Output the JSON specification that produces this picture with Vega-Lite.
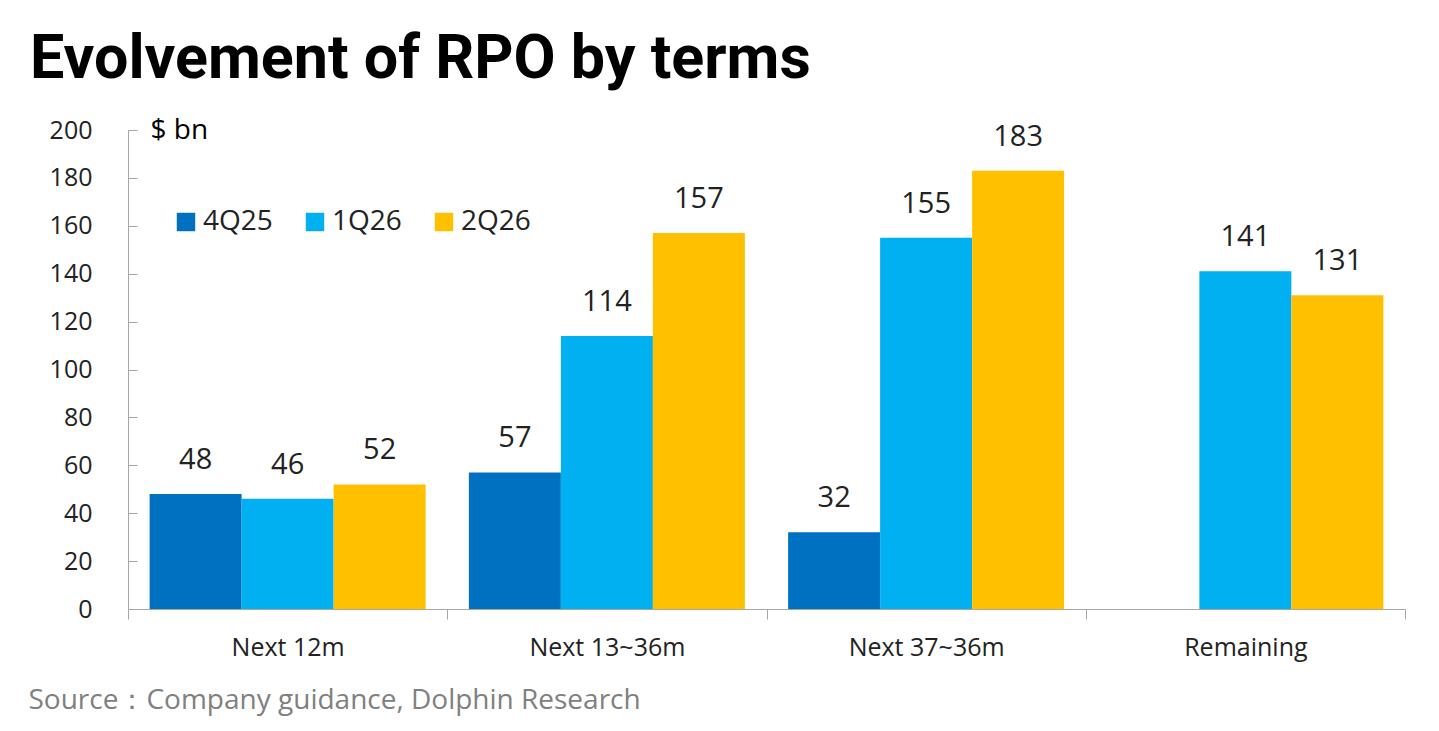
{
  "$schema": "https://vega.github.io/schema/vega-lite/v6.json",
  "autosize": "none",
  "width": 1277,
  "height": 479,
  "padding": {"left": 128, "top": 130, "right": 34, "bottom": 122},
  "background": "white",
  "title": {
    "text": "Evolvement of RPO by terms",
    "anchor": "start",
    "frame": "group",
    "dx": -98,
    "offset": 25,
    "font": "Roboto",
    "fontSize": 61,
    "fontWeight": "bold",
    "color": "#000000"
  },
  "config": {
    "font": "Open Sans",
    "view": {"stroke": null},
    "axis": {"labelColor": "#222222", "domainColor": "#a6a6a6", "tickColor": "#a6a6a6", "grid": false}
  },
  "data": {
    "values": [
      {"term": "Next 12m", "quarter": "4Q25", "rpo": 48},
      {"term": "Next 12m", "quarter": "1Q26", "rpo": 46},
      {"term": "Next 12m", "quarter": "2Q26", "rpo": 52},
      {"term": "Next 13~36m", "quarter": "4Q25", "rpo": 57},
      {"term": "Next 13~36m", "quarter": "1Q26", "rpo": 114},
      {"term": "Next 13~36m", "quarter": "2Q26", "rpo": 157},
      {"term": "Next 37~36m", "quarter": "4Q25", "rpo": 32},
      {"term": "Next 37~36m", "quarter": "1Q26", "rpo": 155},
      {"term": "Next 37~36m", "quarter": "2Q26", "rpo": 183},
      {"term": "Remaining", "quarter": "1Q26", "rpo": 141},
      {"term": "Remaining", "quarter": "2Q26", "rpo": 131}
    ]
  },
  "encoding": {
    "x": {
      "field": "term",
      "type": "nominal",
      "sort": ["Next 12m", "Next 13~36m", "Next 37~36m", "Remaining"],
      "scale": {"paddingInner": 0, "paddingOuter": 0},
      "axis": {
        "title": "Source：Company guidance, Dolphin Research",
        "titleX": -100,
        "titleY": 91,
        "titleAlign": "left",
        "titleBaseline": "middle",
        "titleAnchor": null,
        "titleColor": "#808080",
        "titleFontSize": 28,
        "titleFontWeight": "normal",
        "labelAngle": 0,
        "labelFontSize": 25,
        "labelPadding": 16,
        "tickBand": "extent",
        "tickSize": 10
      }
    },
    "xOffset": {
      "field": "quarter",
      "type": "nominal",
      "sort": ["4Q25", "1Q26", "2Q26"],
      "scale": {"domain": ["4Q25", "1Q26", "2Q26"], "paddingInner": 0, "paddingOuter": 0.235}
    },
    "y": {
      "field": "rpo",
      "type": "quantitative",
      "scale": {"domain": [0, 200], "nice": false},
      "axis": {
        "values": [0, 20, 40, 60, 80, 100, 120, 140, 160, 180, 200],
        "title": "$ bn",
        "titleAngle": 0,
        "titleX": 22,
        "titleY": 0,
        "titleAlign": "left",
        "titleBaseline": "middle",
        "titleFontSize": 28,
        "titleFontWeight": "normal",
        "titleColor": "#000000",
        "labelFontSize": 25,
        "tickSize": -9,
        "labelPadding": 45
      }
    }
  },
  "layer": [
    {
      "mark": {"type": "bar"},
      "encoding": {
        "color": {
          "field": "quarter",
          "type": "nominal",
          "scale": {"domain": ["4Q25", "1Q26", "2Q26"], "range": ["#0070C0", "#00B0F0", "#FFC000"]},
          "legend": {
            "title": null,
            "orient": "none",
            "legendX": 44,
            "legendY": 78,
            "direction": "horizontal",
            "symbolType": "square",
            "symbolSize": 340,
            "symbolStrokeWidth": 0,
            "labelFontSize": 28,
            "labelColor": "#222222",
            "labelOffset": 3,
            "columnPadding": 28
          }
        }
      }
    },
    {
      "mark": {"type": "text", "baseline": "alphabetic", "dy": -25, "fontSize": 29, "color": "#222222"},
      "encoding": {
        "text": {"field": "rpo", "type": "quantitative"}
      }
    }
  ]
}
